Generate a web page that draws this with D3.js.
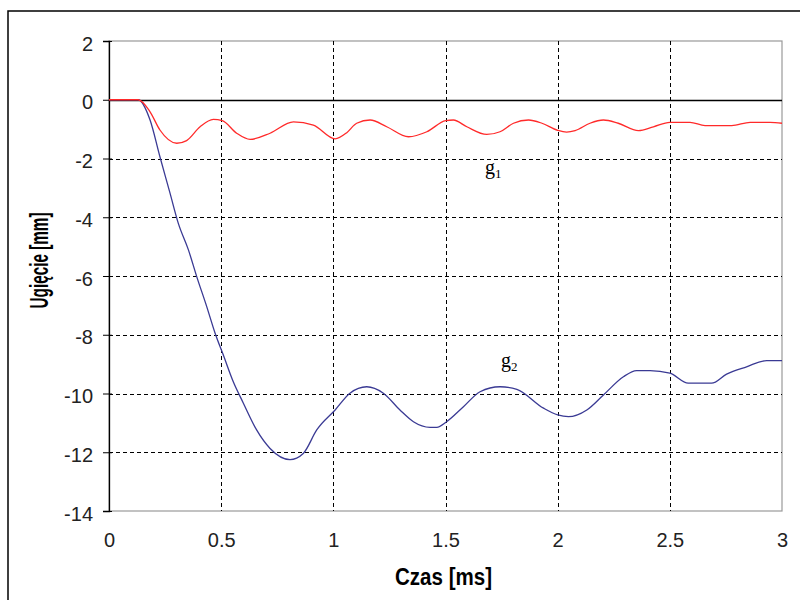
<!DOCTYPE html>
<html>
<head>
<meta charset="utf-8">
<script src="https://cdn.jsdelivr.net/npm/d3@7"></script>
<style>
  body { margin: 0; background: #fff; }
  svg { display: block; }
  .tick text { font-family: "Liberation Sans", Arial, sans-serif; font-size: 20px; fill: #222; }
</style>
</head>
<body>
<div id="chart"></div>
<script>
// czas [ms] / ugięcie [mm]
const timeG1 = [0, 0.13, 0.183, 0.227, 0.302, 0.346, 0.406, 0.465, 0.505, 0.569, 0.629, 0.718, 0.822, 0.911,
  1.008, 1.06, 1.104, 1.164, 1.238, 1.335, 1.417, 1.501, 1.535, 1.595, 1.684, 1.743, 1.803, 1.87, 1.93,
  2.0, 2.04, 2.078, 2.144, 2.204, 2.27, 2.36, 2.427, 2.5, 2.59, 2.657, 2.776, 2.858, 2.947, 3.0];
const valuesG1 = [0, 0, -0.41, -1.03, -1.48, -1.39, -0.92, -0.67, -0.71, -1.14, -1.35, -1.14, -0.75, -0.86,
  -1.33, -1.12, -0.8, -0.69, -0.92, -1.26, -1.09, -0.71, -0.69, -0.92, -1.18, -1.09, -0.8, -0.69, -0.8,
  -1.04, -1.1, -1.05, -0.8, -0.69, -0.8, -1.05, -0.92, -0.77, -0.77, -0.88, -0.88, -0.77, -0.77, -0.8];

const timeG2 = [0, 0.13, 0.183, 0.227, 0.272, 0.309, 0.354, 0.391, 0.436, 0.473, 0.51, 0.554, 0.599, 0.658,
  0.718, 0.807, 0.866, 0.926, 1.008, 1.074, 1.149, 1.223, 1.297, 1.357, 1.431, 1.461, 1.505, 1.58, 1.654,
  1.743, 1.818, 1.937, 2.0, 2.048, 2.13, 2.204, 2.293, 2.352, 2.412, 2.5, 2.582, 2.686, 2.753, 2.842, 2.932, 3.0];
const valuesG2 = [0, 0, -0.69, -1.94, -3.18, -4.21, -5.11, -6.02, -7.05, -7.95, -8.7, -9.6, -10.33, -11.24,
  -11.87, -12.25, -12.04, -11.24, -10.56, -9.99, -9.77, -9.99, -10.56, -10.96, -11.15, -11.15, -10.96, -10.45, -9.94,
  -9.77, -9.86, -10.5, -10.73, -10.79, -10.56, -10.05, -9.43, -9.22, -9.22, -9.31, -9.65, -9.65, -9.34, -9.09, -8.88, -8.88];

const xTicks = [0, 0.5, 1, 1.5, 2, 2.5, 3];
const yTicks = [2, 0, -2, -4, -6, -8, -10, -12, -14];

const width = 800, height = 600;
const plotLeft = 109, plotRight = 782, plotTop = 41, plotBottom = 511;

const x = d3.scaleLinear().domain([0, 3]).range([plotLeft, plotRight]);
const y = d3.scaleLinear().domain([-14, 2]).range([plotBottom, plotTop]);

const svg = d3.select("#chart").append("svg")
    .attr("width", width)
    .attr("height", height);

// outer frame
svg.append("rect")
    .attr("x", 8).attr("y", 11)
    .attr("width", 820).attr("height", 620)
    .attr("fill", "none")
    .attr("stroke", "#000")
    .attr("stroke-width", 1.5);

// plot area border
svg.append("rect")
    .attr("x", plotLeft).attr("y", plotTop)
    .attr("width", plotRight - plotLeft).attr("height", plotBottom - plotTop)
    .attr("fill", "none")
    .attr("stroke", "#999")
    .attr("stroke-width", 1.2);

// grid
const grid = svg.append("g").attr("class", "grid")
    .attr("stroke", "#000")
    .attr("stroke-width", 1)
    .attr("stroke-dasharray", "4,3");

grid.selectAll("line.h")
  .data(yTicks.filter(d => d < 0 && d > -14))
  .enter().append("line")
    .attr("class", "h")
    .attr("x1", plotLeft).attr("x2", plotRight)
    .attr("y1", d => Math.round(y(d)) + 0.5)
    .attr("y2", d => Math.round(y(d)) + 0.5);

grid.selectAll("line.v")
  .data(xTicks.filter(d => d > 0 && d < 3))
  .enter().append("line")
    .attr("class", "v")
    .attr("y1", plotTop).attr("y2", plotBottom)
    .attr("x1", d => Math.round(x(d)) + 0.5)
    .attr("x2", d => Math.round(x(d)) + 0.5);

const plain = d => String(d);

// x axis labels (axis line itself sits at 0)
const xAxis = svg.append("g")
    .attr("transform", `translate(0,${plotBottom})`)
    .call(d3.axisBottom(x).tickValues(xTicks).tickFormat(plain).tickSize(0).tickPadding(22));
xAxis.select(".domain").remove();

svg.append("line")
    .attr("x1", plotLeft).attr("x2", plotRight)
    .attr("y1", Math.round(y(0)) + 0.5).attr("y2", Math.round(y(0)) + 0.5)
    .attr("stroke", "#000")
    .attr("stroke-width", 1.3);

// y axis
const yAxis = svg.append("g")
    .attr("transform", `translate(${plotLeft},0)`)
    .call(d3.axisLeft(y).tickValues(yTicks).tickFormat(plain).tickSize(6).tickPadding(10));
yAxis.select(".domain").attr("stroke", "#000").attr("stroke-width", 1.3);
yAxis.selectAll(".tick line").attr("x2", 3).attr("x1", -6).attr("stroke", "#000");
yAxis.selectAll(".tick text").attr("dy", "0.45em");

// series
const line = d3.line()
    .curve(d3.curveMonotoneX)
    .x(d => x(d[0]))
    .y(d => y(d[1]));

svg.append("path")
    .datum(d3.zip(timeG2, valuesG2))
    .attr("fill", "none")
    .attr("stroke", "#3a3a94")
    .attr("stroke-width", 1.3)
    .attr("d", line);

svg.append("path")
    .datum(d3.zip(timeG1, valuesG1))
    .attr("fill", "none")
    .attr("stroke", "#ff2a2a")
    .attr("stroke-width", 1.3)
    .attr("d", line);

// series labels
const addLabel = (px, py, sub) => {
  const t = svg.append("text")
      .attr("x", px).attr("y", py)
      .attr("font-family", "'Liberation Serif', 'Times New Roman', serif")
      .attr("font-size", 20)
      .attr("fill", "#000")
      .text("g");
  t.append("tspan")
      .attr("font-size", 13)
      .attr("dy", 4)
      .text(sub);
};
addLabel(485, 174, "1");
addLabel(501, 367, "2");

// axis titles
svg.append("text")
    .attr("x", 443.5).attr("y", 585)
    .attr("text-anchor", "middle")
    .attr("font-family", "'Liberation Sans', Arial, sans-serif")
    .attr("font-weight", "bold")
    .attr("font-size", 23)
    .attr("textLength", 97)
    .attr("lengthAdjust", "spacingAndGlyphs")
    .text("Czas [ms]");

svg.append("text")
    .attr("transform", "translate(48,260.5) rotate(-90)")
    .attr("text-anchor", "middle")
    .attr("font-family", "'Liberation Sans', Arial, sans-serif")
    .attr("font-weight", "bold")
    .attr("font-size", 25)
    .attr("textLength", 96)
    .attr("lengthAdjust", "spacingAndGlyphs")
    .text("Ugięcie [mm]");
</script>
</body>
</html>
